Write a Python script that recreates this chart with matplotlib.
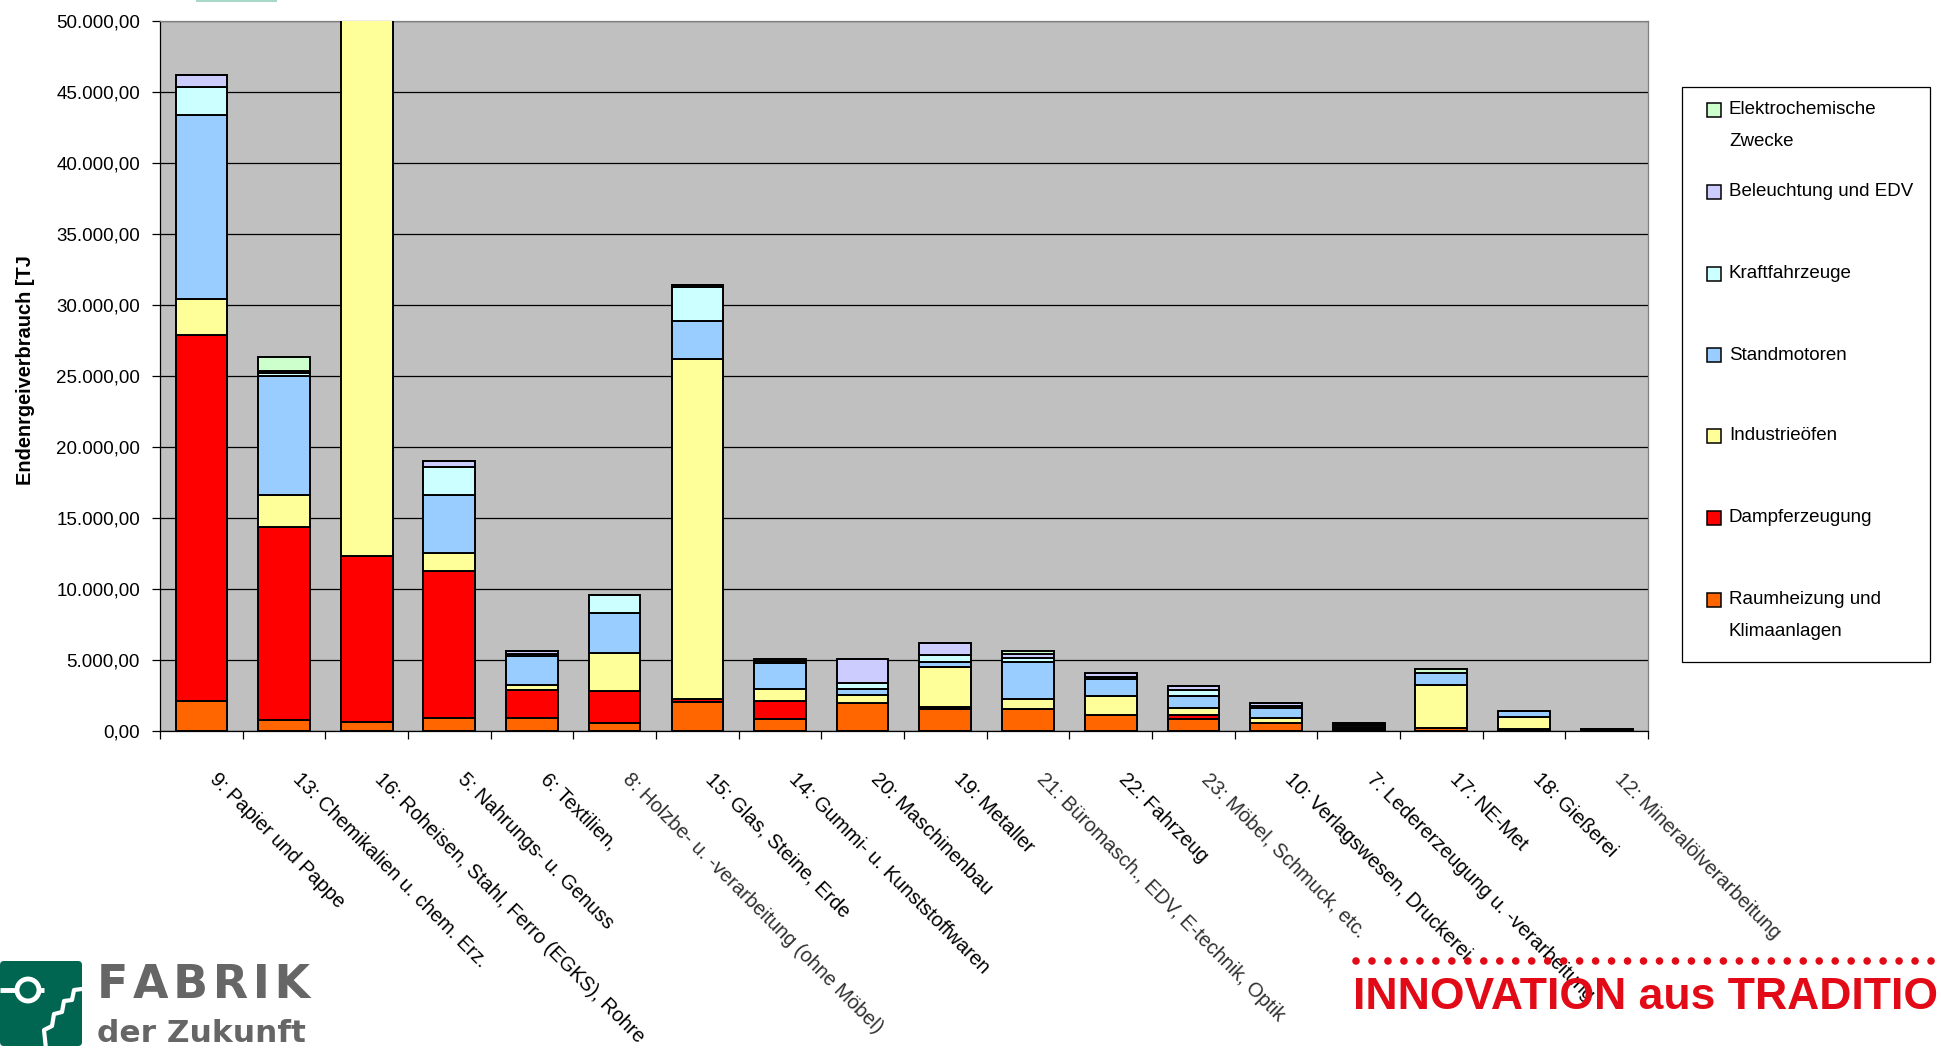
import numpy as np
import matplotlib
matplotlib.use("Agg")
import matplotlib.pyplot as plt
import matplotlib.transforms as mtransforms
from matplotlib import font_manager
from matplotlib.patches import Rectangle, FancyBboxPatch, Circle
from matplotlib.lines import Line2D
from matplotlib.ticker import FuncFormatter, MultipleLocator

# Branchen (Beschriftung so wie sie im Original sichtbar ist)
branchen = [
    "9: Papier und Pappe",
    "13: Chemikalien u. chem. Erz.",
    "16: Roheisen, Stahl, Ferro (EGKS), Rohre",
    "5: Nahrungs- u. Genuss",
    "6: Textilien,",
    "8: Holzbe- u. -verarbeitung (ohne Möbel)",
    "15: Glas, Steine, Erde",
    "14: Gummi- u. Kunststoffwaren",
    "20: Maschinenbau",
    "19: Metaller",
    "21: Büromasch., EDV, E-technik, Optik",
    "22: Fahrzeug",
    "23: Möbel, Schmuck, etc.",
    "10: Verlagswesen, Druckerei",
    "7: Ledererzeugung u. -verarbeitung",
    "17: NE-Met",
    "18: Gießerei",
    "12: Mineralölverarbeitung",
]
unscharf = [5, 10, 12, 17]   # im Original verpixelte Beschriftungen

# Endenergieverbrauch [TJ] je Anwendung (von unten nach oben gestapelt)
raumheizung = [2100, 800, 600, 950, 950, 550, 2060, 820, 1950, 1530, 1530, 1130, 820, 540, 120, 240, 80, 50]
dampf = [25800, 13550, 11700, 10300, 1940, 2270, 190, 1290, 0, 180, 0, 0, 280, 0, 80, 0, 80, 50]
oefen = [2500, 2250, 39000, 1270, 350, 2650, 23920, 820, 560, 2770, 700, 1360, 540, 400, 100, 3000, 800, 40]
standmotoren = [12950, 8400, 3000, 4080, 2060, 2820, 2700, 1830, 420, 400, 2650, 1150, 850, 700, 120, 820, 450, 30]
kfz = [1980, 200, 1000, 1970, 130, 1290, 2370, 150, 420, 450, 280, 180, 400, 150, 80, 0, 0, 0]
beleuchtung = [840, 170, 500, 440, 200, 0, 150, 150, 1710, 890, 240, 240, 300, 200, 80, 0, 0, 0]
elektrochemie = [0, 950, 0, 0, 0, 0, 0, 0, 0, 0, 250, 0, 0, 0, 0, 280, 0, 0]

serien = [raumheizung, dampf, oefen, standmotoren, kfz, beleuchtung, elektrochemie]
namen = ["Raumheizung und\nKlimaanlagen", "Dampferzeugung", "Industrieöfen", "Standmotoren",
         "Kraftfahrzeuge", "Beleuchtung und EDV", "Elektrochemische\nZwecke"]
farben = ["#FF6600", "#FF0000", "#FFFF99", "#99CCFF", "#CCFFFF", "#CCCCFF", "#CCFFCC"]

# Schrift: Original wirkt wie schmale Arial
fonts = {f.name for f in font_manager.fontManager.ttflist}
if "Liberation Sans Narrow" in fonts:
    plt.rcParams["font.family"] = ["Liberation Sans Narrow", "Liberation Sans", "DejaVu Sans"]
    fs = 16
else:
    plt.rcParams["font.family"] = ["Liberation Sans", "DejaVu Sans"]
    fs = 13.5
fs_kat = fs * 1.07

W, H = 1941, 1049
def fx(x):
    return x / W
def fy(y):
    return 1 - y / H

fig = plt.figure(figsize=(W / 100, H / 100), dpi=100)
fig.patch.set_facecolor("white")

ax = fig.add_axes([fx(160), fy(731), (1648 - 160) / W, (731 - 21) / H])
ax.set_facecolor("#C0C0C0")

x = np.arange(len(branchen)) + 0.5
unten = np.zeros(len(branchen))
for werte, farbe in zip(serien, farben):
    werte = np.array(werte, dtype=float)
    ax.bar(x, werte, width=0.625, bottom=unten, color=farbe,
           edgecolor="black", linewidth=1.4, zorder=3)
    unten += werte

ax.set_xlim(0, len(branchen))
ax.set_ylim(0, 50000)
ax.yaxis.set_major_locator(MultipleLocator(5000))
ax.yaxis.set_major_formatter(FuncFormatter(
    lambda v, p: f"{v:,.2f}".replace(",", "X").replace(".", ",").replace("X", ".")))
ax.grid(axis="y", color="black", linewidth=0.9)
ax.set_axisbelow(True)
ax.set_xticks(np.arange(len(branchen) + 1))
ax.set_xticklabels([])
ax.tick_params(axis="both", direction="out", length=5.8, width=0.9, color="black")
ax.tick_params(axis="y", pad=8.6, labelsize=fs)
for s in ["left", "bottom"]:
    ax.spines[s].set_color("black")
    ax.spines[s].set_linewidth(0.9)
for s in ["top", "right"]:
    ax.spines[s].set_color("#808080")
    ax.spines[s].set_linewidth(0.9)

# schräge Kategorienbeschriftung
trans = mtransforms.blended_transform_factory(ax.transData, ax.transAxes)
for i, name in enumerate(branchen):
    ax.text(i + 0.5 + 0.22, -0.054, name, transform=trans, rotation=-45,
            rotation_mode="anchor", ha="left", va="top", fontsize=fs_kat,
            color="#303030" if i in unscharf else "black", clip_on=False)

fig.text(fx(26), fy(370), "Endenrgeiverbrauch [TJ", rotation=90, ha="center", va="center",
         fontsize=fs_kat, fontweight="bold")

# Legende (von Hand, damit die Abstände wie im Original sind)
fig.add_artist(Rectangle((fx(1682), fy(662)), (1930 - 1682) / W, (662 - 87) / H,
                         transform=fig.transFigure, facecolor="white", edgecolor="black", linewidth=0.9))
leg_y = [110, 192, 274, 355, 436, 518, 600]
for yy, name, farbe in zip(leg_y, namen[::-1], farben[::-1]):
    fig.add_artist(Rectangle((fx(1707), fy(yy + 7)), 14 / W, 14 / H, transform=fig.transFigure,
                             facecolor=farbe, edgecolor="black", linewidth=1.1))
    for k, zeile in enumerate(name.split("\n")):
        fig.text(fx(1729), fy(yy + 31 * k), zeile, ha="left", va="center", fontsize=fs)

# kleiner Balken oben
fig.add_artist(Rectangle((fx(196), fy(2)), 81 / W, 2 / H, transform=fig.transFigure,
                         facecolor="#A8D8C8", edgecolor="none"))

# Logo "FABRIK der Zukunft"
lax = fig.add_axes([0, fy(1049), 84 / W, 89 / H])
lax.set_xlim(0, 84)
lax.set_ylim(1049, 960)
lax.axis("off")
lax.add_patch(FancyBboxPatch((0, 961), 82, 85, boxstyle="round,pad=0,rounding_size=4",
                             facecolor="#006652", edgecolor="none"))
lax.add_patch(Circle((28, 990), 11, facecolor="none", edgecolor="white", linewidth=3.5))
lax.plot([0, 16], [990, 990], color="white", linewidth=3.5, solid_capstyle="butt")
lax.plot([40, 44], [990, 990], color="white", linewidth=3.5, solid_capstyle="butt")
lax.plot([46, 44, 52, 54, 62, 64, 72, 74, 82], [1049, 1030, 1026, 1014, 1012, 1001, 1000, 990, 989],
         color="white", linewidth=3)
fig.text(fx(97), fy(998), "\u200a".join("FABRIK"), family="DejaVu Sans", fontweight="bold",
         fontsize=33, color="#666666", ha="left", va="baseline")
fig.text(fx(97), fy(1042), "der Zukunft", family="DejaVu Sans", fontweight="bold",
         fontsize=22.5, color="#666666", ha="left", va="baseline")

# Slogan unten rechts
fig.add_artist(Line2D([fx(1356), fx(1960)], [fy(961), fy(961)], transform=fig.transFigure,
                      color="#E30A17", linewidth=5.5, dashes=(0.001, 2.09), dash_capstyle="round"))
fig.text(fx(1353), fy(1009), "INNOVATION aus TRADITION", family=["Liberation Sans", "DejaVu Sans"],
         fontweight="heavy", fontsize=32, color="#E30A17", ha="left", va="baseline")

fig.savefig("out.png", dpi=100)
